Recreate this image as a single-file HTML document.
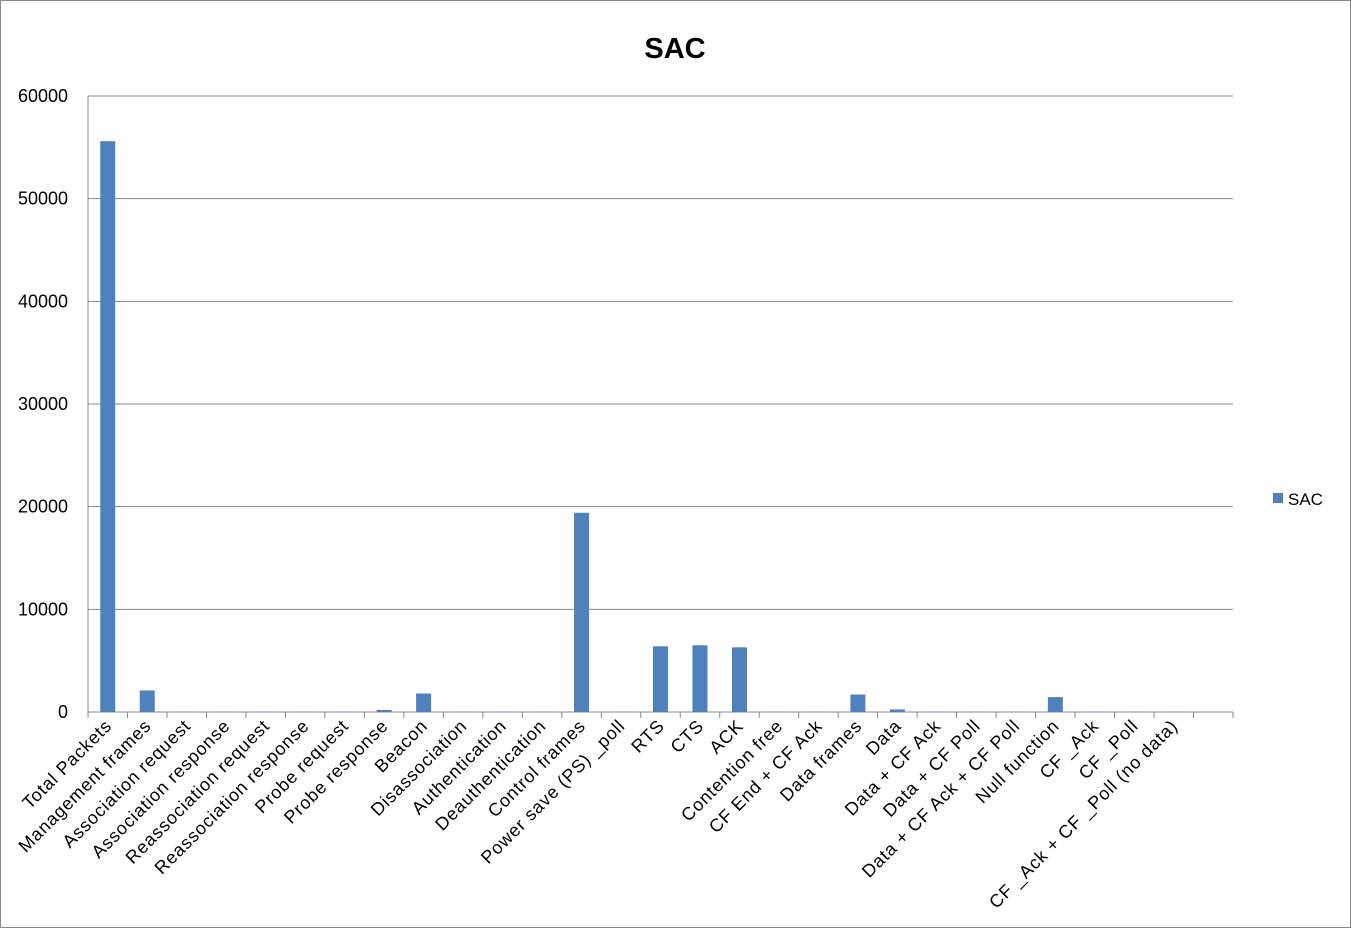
<!DOCTYPE html>
<html><head><meta charset="utf-8"><style>
body{margin:0;background:#fff;}
svg{display:block;font-family:"Liberation Sans",sans-serif;}
</style></head><body>
<svg width="1351" height="928">
<rect x="0.5" y="0.5" width="1350" height="927" fill="#fff" stroke="#888"/>
<text x="675" y="58" text-anchor="middle" font-size="29" font-weight="bold">SAC</text>
<g id="grid"></g><g id="bars"></g><g id="xlabels"></g><g id="ylabels"></g>
<rect x="1273" y="493" width="10" height="10" fill="#4f81bd"/>
<text x="1288" y="505" font-size="17">SAC</text>
</svg>
<script>
const categories=["Total Packets","Management frames","Association request","Association response","Reassociation request","Reassociation response","Probe request","Probe response","Beacon","Disassociation","Authentication","Deauthentication","Control frames","Power save (PS) _poll","RTS","CTS","ACK","Contention free","CF End + CF Ack","Data frames","Data","Data + CF Ack","Data + CF Poll","Data + CF Ack + CF Poll","Null function","CF _Ack","CF _Poll","CF _Ack + CF _Poll (no data)",""];
const values=[55600,2100,20,20,20,20,20,200,1800,20,20,20,19400,20,6400,6500,6300,20,20,1700,250,20,20,20,1450,20,20,20,null];
const yTicks=[0,10000,20000,30000,40000,50000,60000];
const NS="http://www.w3.org/2000/svg";
const X0=88,X1=1233,Y0=712,Y1=96,YMAX=60000;
const step=(X1-X0)/categories.length;
function y(v){return Y0-(v/YMAX)*(Y0-Y1);}
function xc(i){return X0+step*(i+0.5);}
function mk(t,a,p){const e=document.createElementNS(NS,t);for(const k in a)e.setAttribute(k,a[k]);p.appendChild(e);return e;}
const grid=document.getElementById('grid'),bars=document.getElementById('bars'),xl=document.getElementById('xlabels'),yl=document.getElementById('ylabels');
yTicks.forEach(v=>{
 const l=mk('line',{x1:X0,x2:X1,y1:y(v),y2:y(v),stroke:'#888','stroke-width':1},grid);
 
 
 const t=mk('text',{x:68,y:y(v)+6,'text-anchor':'end','font-size':18},yl);
 t.textContent=v;
 
 
});
mk('line',{x1:X0,x2:X0,y1:Y1,y2:Y0,stroke:'#888'},grid);
for(let i=0;i<=categories.length;i++){
 const tk=mk('line',{x1:X0+step*i,x2:X0+step*i,y1:Y0,y2:Y0+6,stroke:'#888'},grid);
 
 
}
categories.forEach((c,i)=>{
 const v=values[i];
 if(v!=null){
  const r=mk('rect',{x:xc(i)-7.5,y:y(v),width:15,height:Y0-y(v),fill:'#4f81bd'},bars);
  
  
 }
 if(c){
  const t=mk('text',{x:xc(i)+5,y:727,'text-anchor':'end','font-size':18,'letter-spacing':'0.8',transform:`rotate(-45 ${xc(i)+5} 727)`},xl);
  t.textContent=c;
  
  
 }
});
</script>
</body></html>
